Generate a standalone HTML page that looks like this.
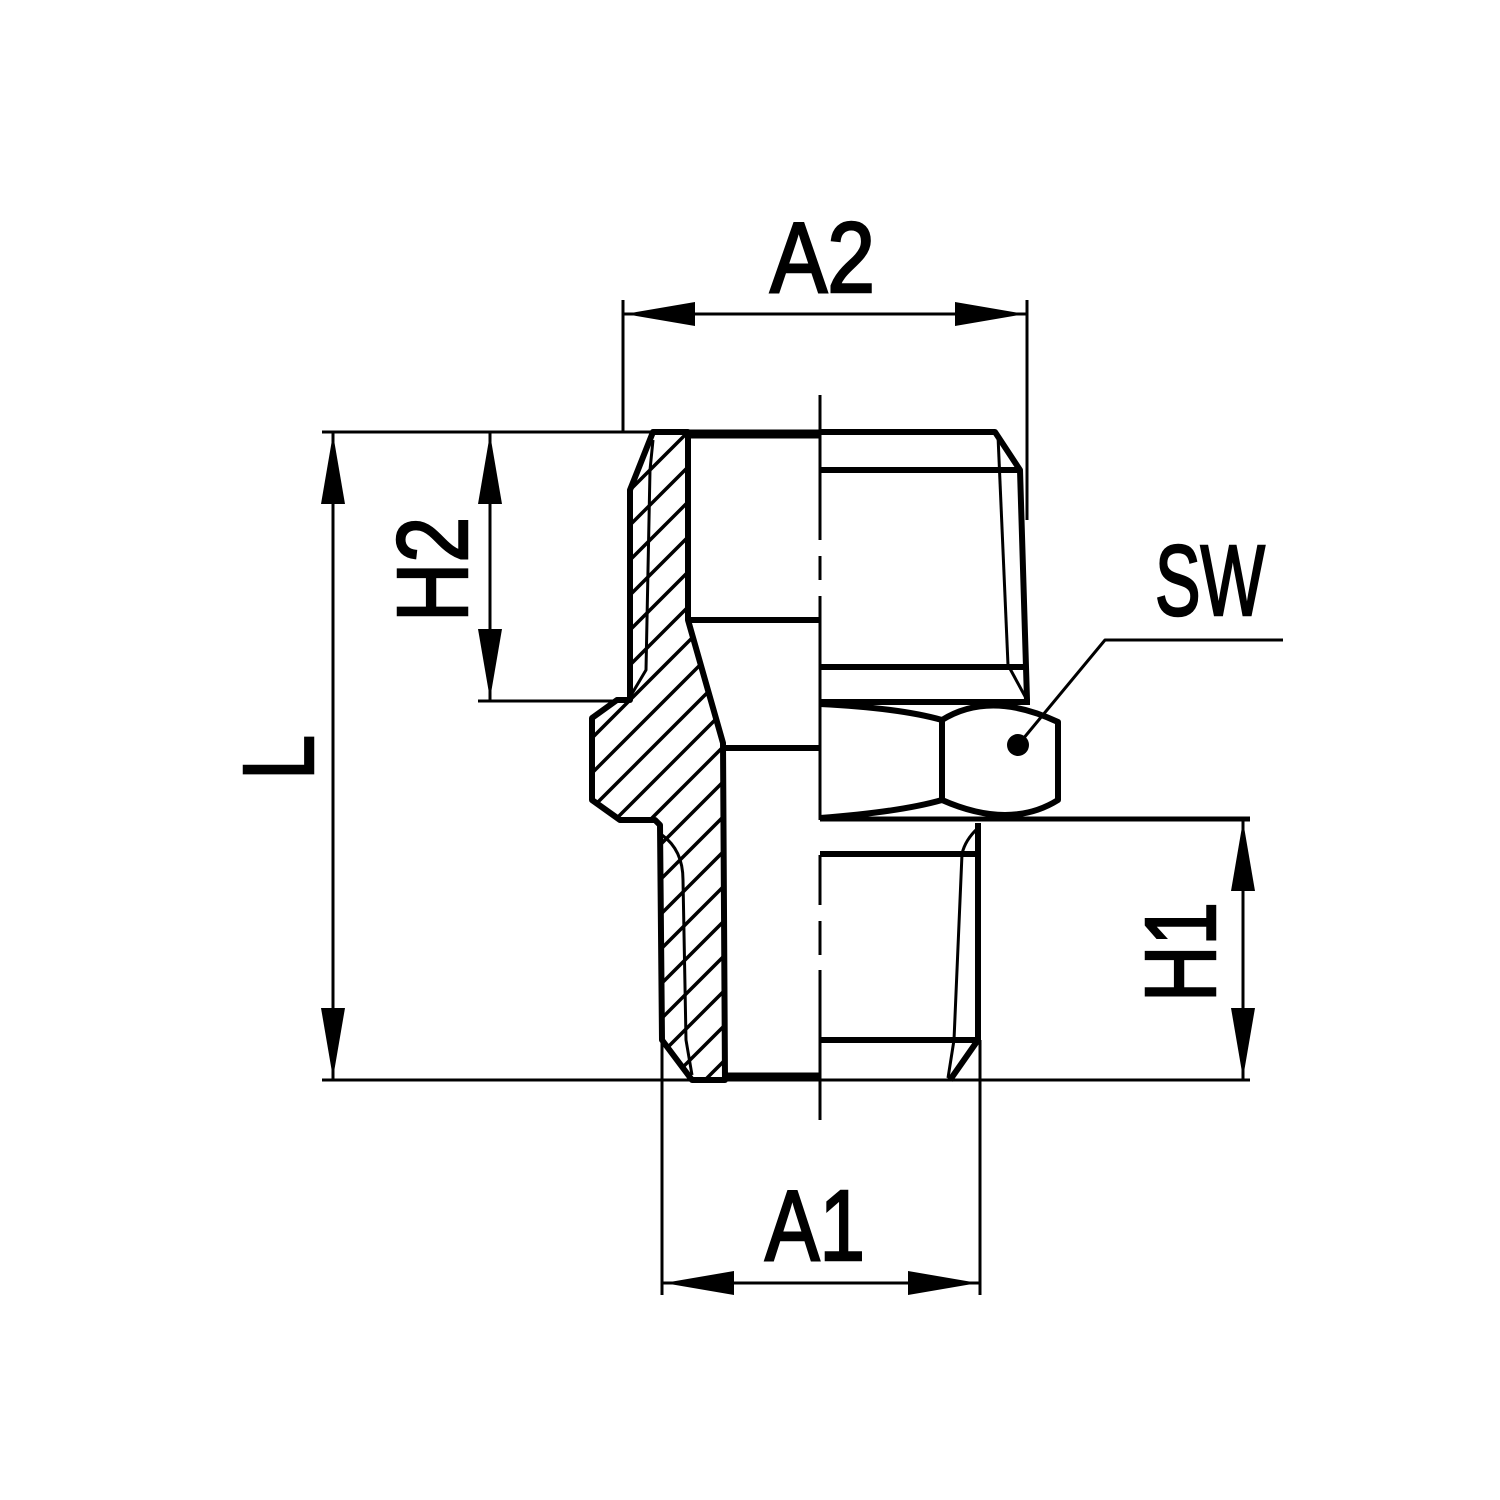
<!DOCTYPE html>
<html><head><meta charset="utf-8"><style>html,body{margin:0;padding:0;background:#fff}svg{display:block}</style></head>
<body>
<svg width="1500" height="1500" viewBox="0 0 1500 1500" xmlns="http://www.w3.org/2000/svg">
<defs>
<clipPath id="sec"><polygon points="653,432 688,432 688,620 723,743 725,1080 692,1080 662,1040 660,825 655,820 620,820 592,800 592,718 617,700 630,700 630,490"/></clipPath>
</defs>
<rect width="1500" height="1500" fill="#fff"/>
<g clip-path="url(#sec)" stroke="#000" stroke-width="3.5">
<line x1="300" y1="1100" x2="1000" y2="400"/>
<line x1="335" y1="1100" x2="1035" y2="400"/>
<line x1="370" y1="1100" x2="1070" y2="400"/>
<line x1="405" y1="1100" x2="1105" y2="400"/>
<line x1="440" y1="1100" x2="1140" y2="400"/>
<line x1="475" y1="1100" x2="1175" y2="400"/>
<line x1="510" y1="1100" x2="1210" y2="400"/>
<line x1="545" y1="1100" x2="1245" y2="400"/>
<line x1="580" y1="1100" x2="1280" y2="400"/>
<line x1="615" y1="1100" x2="1315" y2="400"/>
<line x1="650" y1="1100" x2="1350" y2="400"/>
<line x1="685" y1="1100" x2="1385" y2="400"/>
<line x1="720" y1="1100" x2="1420" y2="400"/>
<line x1="265" y1="1100" x2="965" y2="400"/>
<line x1="230" y1="1100" x2="930" y2="400"/>
<line x1="195" y1="1100" x2="895" y2="400"/>
<line x1="160" y1="1100" x2="860" y2="400"/>
<line x1="125" y1="1100" x2="825" y2="400"/>
<line x1="90" y1="1100" x2="790" y2="400"/>
<line x1="55" y1="1100" x2="755" y2="400"/>
<line x1="20" y1="1100" x2="720" y2="400"/>
</g>
<g fill="none" stroke="#000" stroke-linejoin="round">
<polygon points="653,432 688,432 688,620 723,743 725,1080 692,1080 662,1040 660,825 655,820 620,820 592,800 592,718 617,700 630,700 630,490" stroke-width="6"/>
<path d="M653,440 L650,470 L646,670 L630,697" stroke-width="3"/>
<path d="M662,835 Q683,850 683,880 L686,1040 L692,1075" stroke-width="3"/>
<line x1="688" y1="434" x2="820" y2="434" stroke-width="9"/>
<line x1="688" y1="620" x2="820" y2="620" stroke-width="6"/>
<line x1="723" y1="748" x2="820" y2="748" stroke-width="6"/>
<line x1="725" y1="1077" x2="820" y2="1077" stroke-width="9"/>
<polyline points="820,432 995,432 1020,470 1027,700" stroke-width="6"/>
<line x1="820" y1="470" x2="1020" y2="470" stroke-width="6"/>
<line x1="998" y1="436" x2="1008" y2="665" stroke-width="3"/>
<line x1="1008" y1="665" x2="1027" y2="700" stroke-width="3"/>
<line x1="820" y1="667" x2="1025" y2="667" stroke-width="6"/>
<line x1="820" y1="702" x2="1030" y2="702" stroke-width="6"/>
<path d="M820,704 Q900,708 942,720 L942,800 Q900,812 820,818" stroke-width="6"/>
<path d="M942,720 Q990,690 1058,722 L1058,800 Q1010,830 942,800" stroke-width="6"/>
<line x1="820" y1="819" x2="1250" y2="819" stroke-width="5"/>
<line x1="820" y1="854" x2="975" y2="854" stroke-width="6"/>
<polyline points="978,823 978,1040 950,1080" stroke-width="6"/>
<path d="M978,828 Q965,840 962,854 L954,1040 L948,1078" stroke-width="3"/>
<line x1="820" y1="1040" x2="975" y2="1040" stroke-width="6"/>
<line x1="692" y1="1080" x2="1250" y2="1080" stroke-width="3"/>
<path d="M820,395 L820,540 M820,556 L820,580 M820,596 L820,820 M820,855 L820,905 M820,921 L820,955 M820,970 L820,1120" stroke-width="3"/>
<g stroke-width="3">
<line x1="623" y1="300" x2="623" y2="432"/>
<line x1="1027" y1="300" x2="1027" y2="520"/>
<line x1="623" y1="314" x2="1027" y2="314"/>
<line x1="322" y1="432" x2="653" y2="432"/>
<line x1="333" y1="432" x2="333" y2="1080"/>
<line x1="322" y1="1080" x2="692" y2="1080"/>
<line x1="490" y1="432" x2="490" y2="700"/>
<line x1="478" y1="701" x2="617" y2="701"/>
<line x1="1243" y1="819" x2="1243" y2="1080"/>
<line x1="662" y1="1040" x2="662" y2="1295"/>
<line x1="980" y1="1040" x2="980" y2="1295"/>
<line x1="662" y1="1283" x2="980" y2="1283"/>
<polyline points="1018,745 1105,640 1283,640"/>
</g>
</g>
<circle cx="1018" cy="745" r="11" fill="#000"/>
<g fill="#000">
<polygon points="625,314 695,302 695,326"/>
<polygon points="1025,314 955,302 955,326"/>
<polygon points="333,434 321,504 345,504"/>
<polygon points="333,1078 321,1008 345,1008"/>
<polygon points="490,434 478,504 502,504"/>
<polygon points="490,699 478,629 502,629"/>
<polygon points="1243,821 1231,891 1255,891"/>
<polygon points="1243,1078 1231,1008 1255,1008"/>
<polygon points="664,1283 734,1271 734,1295"/>
<polygon points="978,1283 908,1271 908,1295"/>
</g>
<g font-family="Liberation Sans, sans-serif" font-size="100" fill="#000" stroke="#000" stroke-width="2.5">
<text x="770" y="292" textLength="105" lengthAdjust="spacingAndGlyphs">A2</text>
<text x="765" y="1260" textLength="100" lengthAdjust="spacingAndGlyphs">A1</text>
<text x="1155" y="615" textLength="110" lengthAdjust="spacingAndGlyphs">SW</text>
<text transform="translate(467,622) rotate(-90)" textLength="105" lengthAdjust="spacingAndGlyphs">H2</text>
<text transform="translate(1215,1002) rotate(-90)" textLength="100" lengthAdjust="spacingAndGlyphs">H1</text>
<text transform="translate(313,780) rotate(-90)" textLength="45" lengthAdjust="spacingAndGlyphs">L</text>
</g>
</svg>
</body></html>
